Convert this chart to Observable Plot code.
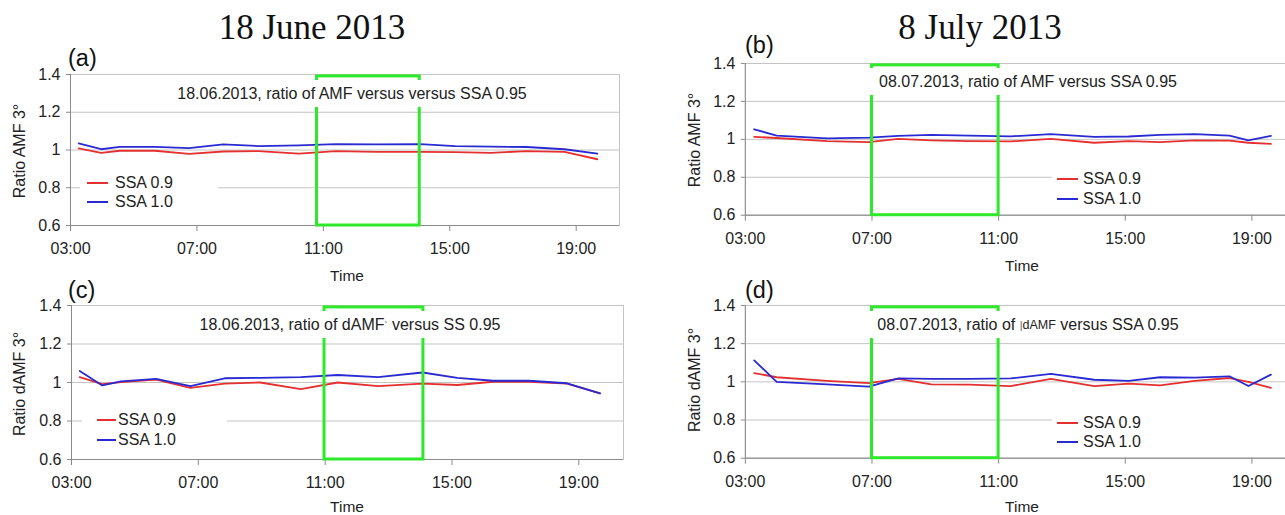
<!DOCTYPE html>
<html><head><meta charset="utf-8">
<script src="https://cdn.jsdelivr.net/npm/d3@7"></script>
<script src="https://cdn.jsdelivr.net/npm/@observablehq/plot@0.6"></script>
<style>
html,body{margin:0;padding:0;background:#fff;overflow:hidden;}
#root{position:relative;width:1285px;height:515px;font-family:"Liberation Sans",Arial,sans-serif;color:#222;overflow:hidden;}
.abs{position:absolute;white-space:nowrap;}
.title{font-family:"Liberation Serif","Times New Roman",serif;font-size:35px;color:#111;transform:translate(-50%,-50%);}
.tag{font-size:23.5px;transform:translateY(-50%);color:#111;}
.ylab{font-size:16px;transform:translate(-50%,-50%) rotate(-90deg);}
.xlab{font-size:15.5px;transform:translate(-50%,-50%);}
.note{background:#fff;font-size:16px;display:flex;align-items:center;justify-content:center;white-space:pre;}
.legend{background:#fff;font-size:16px;}
.row{position:absolute;display:flex;align-items:center;transform:translateY(-50%);}
.plotbox{position:absolute;}
</style></head><body><div id="root"></div>
<script>
// ---- data ----
const seriesNames = ["SSA 0.9", "SSA 1.0"];
const seriesColors = ["#e53030", "#2a2ad2"];
const windowColor = "#2ee82a";

const xTicks = [3, 7, 11, 15, 19];
const xTickLabels = ["03:00", "07:00", "11:00", "15:00", "19:00"];
const yTicks = [0.6, 0.8, 1, 1.2, 1.4];
const yTickLabels = ["0.6", "0.8", "1", "1.2", "1.4"];

// hours of day
const juneTimes = [3.26, 3.97, 4.56, 5.67, 6.75, 7.83, 8.95, 10.23, 11.4, 12.67, 14.07, 15.17, 16.3, 17.43, 18.63, 19.67];
const julyTimes = [3.28, 3.99, 5.58, 6.90, 7.83, 8.87, 10.07, 11.38, 12.65, 14.02, 15.11, 16.10, 17.19, 18.29, 18.89, 19.60];

// (a) 18 June, ratio AMF
const a09 = [1.008, 0.985, 0.996, 0.996, 0.979, 0.992, 0.994, 0.981, 0.994, 0.990, 0.990, 0.989, 0.985, 0.994, 0.990, 0.951];
const a10 = [1.035, 1.004, 1.017, 1.017, 1.010, 1.030, 1.021, 1.025, 1.031, 1.030, 1.031, 1.021, 1.018, 1.016, 1.004, 0.981];
// (b) 8 July, ratio AMF
const b09 = [1.013, 1.007, 0.991, 0.985, 1.002, 0.995, 0.991, 0.989, 1.002, 0.982, 0.991, 0.985, 0.995, 0.993, 0.982, 0.976];
const b10 = [1.053, 1.020, 1.005, 1.009, 1.018, 1.024, 1.020, 1.016, 1.027, 1.013, 1.015, 1.024, 1.027, 1.020, 0.995, 1.018];
// (c) 18 June, ratio dAMF
const c09 = [1.028, 0.991, 1.002, 1.015, 0.972, 0.994, 1.000, 0.966, 1.000, 0.981, 0.994, 0.987, 1.004, 1.004, 0.994, 0.944];
const c10 = [1.060, 0.985, 1.006, 1.019, 0.981, 1.022, 1.024, 1.028, 1.039, 1.028, 1.052, 1.024, 1.009, 1.009, 0.996, 0.944];
// (d) 8 July, ratio dAMF
const d09 = [1.046, 1.024, 1.005, 0.993, 1.015, 0.987, 0.985, 0.978, 1.015, 0.978, 0.991, 0.982, 1.005, 1.020, 1.000, 0.969];
const d10 = [1.112, 1.000, 0.987, 0.975, 1.018, 1.015, 1.016, 1.018, 1.042, 1.011, 1.005, 1.024, 1.022, 1.029, 0.978, 1.038];

// highlighted time windows
const windowA = [10.8, 14.05];
const windowB = [7, 11];
const windowC = [10.98, 14.1];
const windowD = [7, 11];

const root = document.getElementById("root");

function el(cls, html, style) {
  const d = document.createElement("div");
  d.className = "abs " + cls;
  d.innerHTML = html;
  Object.assign(d.style, style);
  root.appendChild(d);
  return d;
}

function panel(o) {
  const data = [];
  o.times.forEach((t, i) => data.push({t, v: o.s09[i], s: seriesNames[0]}));
  o.times.forEach((t, i) => data.push({t, v: o.s10[i], s: seriesNames[1]}));
  const win = [{x1: o.win[0], x2: o.win[1], y1: 0.6, y2: 1.39}];
  const svg = Plot.plot({
    width: o.width, height: o.height,
    marginLeft: o.ml, marginRight: o.mr, marginTop: o.mt, marginBottom: o.mb,
    style: {fontFamily: '"Liberation Sans", Arial, sans-serif', fontSize: "16px", background: "transparent", color: "#222", overflow: "visible"},
    x: {domain: [3, o.xmax], axis: null},
    y: {domain: [0.6, 1.4], axis: null},
    color: {domain: seriesNames, range: seriesColors},
    marks: [
      Plot.gridY({ticks: yTicks, stroke: "#c4c4c4", strokeOpacity: 1}),
      Plot.frame({stroke: "#c4c4c4"}),
      Plot.ruleY([0.6], {stroke: "#8a8a8a"}),
      Plot.ruleX([3], {stroke: "#8a8a8a"}),
      Plot.axisX({ticks: xTicks, tickFormat: d => xTickLabels[xTicks.indexOf(d)], tickSize: 6, tickPadding: 11, stroke: "#8a8a8a", fill: "#222", fontSize: 16, label: null}),
      Plot.axisY({ticks: yTicks, tickFormat: d => yTickLabels[yTicks.indexOf(d)], tickSize: 4, tickPadding: 6, stroke: "#8a8a8a", fill: "#222", fontSize: 16, label: null}),
      Plot.line(data, {x: "t", y: "v", stroke: "s", strokeWidth: 1.8}),
      Plot.rect(win, {x1: "x1", x2: "x2", y1: "y1", y2: "y2", fill: "none", stroke: windowColor, strokeWidth: 3})
    ]
  });
  const wrap = document.createElement("div");
  wrap.className = "plotbox";
  wrap.style.left = o.left + "px";
  wrap.style.top = o.top + "px";
  wrap.appendChild(svg);
  root.appendChild(wrap);
}

panel({left: 0, top: 40, width: 640, height: 250, ml: 70, mr: 21, mt: 34, mb: 65, xmax: 20.37, times: juneTimes, s09: a09, s10: a10, win: windowA});
panel({left: 640, top: 40, width: 646, height: 250, ml: 105, mr: 0, mt: 23, mb: 75, xmax: 20.06, times: julyTimes, s09: b09, s10: b10, win: windowB});
panel({left: 0, top: 280, width: 640, height: 235, ml: 71, mr: 17, mt: 25, mb: 56, xmax: 20.41, times: juneTimes, s09: c09, s10: c10, win: windowC});
panel({left: 640, top: 280, width: 646, height: 235, ml: 105, mr: 0, mt: 25, mb: 57, xmax: 20.06, times: julyTimes, s09: d09, s10: d10, win: windowD});

// titles
el("title", "18 June 2013", {left: "312px", top: "28px"});
el("title", "8 July 2013", {left: "980px", top: "28px"});

// panel tags
el("tag", "(a)", {left: "68px", top: "58px"});
el("tag", "(b)", {left: "745px", top: "45px"});
el("tag", "(c)", {left: "68px", top: "290px"});
el("tag", "(d)", {left: "745px", top: "290px"});

// axis titles
el("ylab", "Ratio AMF 3°", {left: "20px", top: "151px"});
el("ylab", "Ratio AMF 3°", {left: "695px", top: "140px"});
el("ylab", "Ratio dAMF 3°", {left: "20px", top: "384px"});
el("ylab", "Ratio dAMF 3°", {left: "695px", top: "380px"});
el("xlab", "Time", {left: "347px", top: "276px"});
el("xlab", "Time", {left: "1022px", top: "266px"});
el("xlab", "Time", {left: "347px", top: "507px"});
el("xlab", "Time", {left: "1022px", top: "507px"});

// in-plot notes (white boxes)
el("note", "18.06.2013, ratio of AMF versus versus SSA 0.95", {left: "162px", top: "80px", width: "380px", height: "27px"});
el("note", "08.07.2013, ratio of AMF versus SSA 0.95", {left: "862px", top: "68px", width: "332px", height: "27px"});
el("note", "18.06.2013, ratio of dAMF<span style='font-size:9px;vertical-align:5px'>`</span> versus SS 0.95", {left: "180px", top: "311px", width: "340px", height: "27px"});
el("note", "08.07.2013, ratio of <span style='font-size:11px;vertical-align:3px;color:#666'>|</span> <span style='font-size:12.5px;vertical-align:4px'>dAMF</span> versus SSA 0.95", {left: "856px", top: "311px", width: "344px", height: "27px"});

// legends
function legend(box, rows, swX, swLen, gap) {
  const d = el("legend", "", {left: box[0] + "px", top: box[1] + "px", width: (box[2] - box[0]) + "px", height: (box[3] - box[1]) + "px"});
  seriesNames.forEach((name, i) => {
    const r = document.createElement("div");
    r.className = "row";
    r.style.left = (swX - box[0]) + "px";
    r.style.top = (rows[i] - box[1]) + "px";
    r.innerHTML = `<svg width="${swLen}" height="4"><line x1="0" x2="${swLen}" y1="2" y2="2" stroke="${seriesColors[i]}" stroke-width="2"/></svg><span style="margin-left:${gap}px">${name}</span>`;
    d.appendChild(r);
  });
}
legend([80, 172, 218, 212], [183, 202], 87, 21, 7);
legend([1052, 168, 1285, 210], [179, 199], 1057, 21, 5);
legend([82, 410, 227, 451], [420, 440], 97, 19, 2);
legend([1052, 411, 1285, 453], [423, 442], 1057, 21, 5);
</script>
</body></html>
